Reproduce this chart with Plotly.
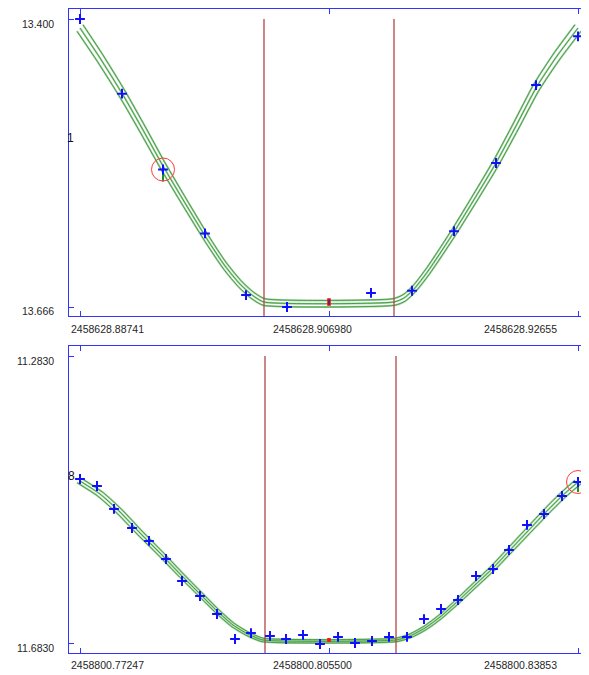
import plotly.graph_objects as go

# ---------------- data: panel 1 (JD 2458628) ----------------
p1_time = [2458628.887410, 2458628.890711, 2458628.893933, 2458628.897234,
           2458628.900457, 2458628.903679, 2458628.910281, 2458628.913503,
           2458628.916804, 2458628.920105, 2458628.923249, 2458628.926550]
p1_mag = [13.400, 13.469, 13.539, 13.598, 13.655, 13.666,
          13.653, 13.651, 13.596, 13.533, 13.461, 13.416]
p1_flag_index = 2

p1_model_time = [2458628.887410, 2458628.888982, 2458628.890790, 2458628.892361,
                 2458628.893933, 2458628.895662, 2458628.897391, 2458628.898806,
                 2458628.899985, 2458628.900928, 2458628.901871, 2458628.912089,
                 2458628.912874, 2458628.913660, 2458628.914761, 2458628.916804,
                 2458628.918455, 2458628.920105, 2458628.921677, 2458628.923249,
                 2458628.924899, 2458628.926550]
p1_model_mag = [13.4083, 13.4360, 13.4702, 13.5025, 13.5358, 13.5699, 13.6032,
                13.6281, 13.6448, 13.6549, 13.6614, 13.6614, 13.6577, 13.6494,
                13.6328, 13.5967, 13.5653, 13.5330, 13.4988, 13.4637, 13.4342,
                13.4083]
p1_contacts = [2458628.901871, 2458628.912089]
p1_mid_time = 2458628.906980

p1_xticks = [2458628.88741, 2458628.906980, 2458628.92655]
p1_xtick_text = ["2458628.88741", "2458628.906980", "2458628.92655"]
p1_yticks = [13.400, 13.666]
p1_ytick_text = ["13.400", "13.666"]
p1_label = "1"

# ---------------- data: panel 2 (JD 2458800) ----------------
p2_time = [2458800.772470, 2458800.774725, 2458800.776980, 2458800.779368,
           2458800.781623, 2458800.783878, 2458800.786000, 2458800.788388,
           2458800.790643, 2458800.793031, 2458800.795153, 2458800.797674,
           2458800.799796, 2458800.802051, 2458800.804306, 2458800.806694,
           2458800.808949, 2458800.811204, 2458800.813459, 2458800.815847,
           2458800.818102, 2458800.820357, 2458800.822612, 2458800.825000,
           2458800.827255, 2458800.829377, 2458800.831765, 2458800.834020,
           2458800.836408, 2458800.838530]
p2_mag = [11.4544, 11.4642, 11.4962, 11.5227, 11.5408, 11.5659, 11.5966, 11.6175,
          11.6426, 11.6774, 11.6691, 11.6732, 11.6774, 11.6718, 11.6844, 11.6746,
          11.6830, 11.6802, 11.6746, 11.6746, 11.6496, 11.6356, 11.6231, 11.5896,
          11.5799, 11.5534, 11.5185, 11.5032, 11.4781, 11.4586]
p2_flag_index = 29

p2_model_time = [2458800.772470, 2458800.775123, 2458800.777776, 2458800.780429,
                 2458800.783082, 2458800.785735, 2458800.788388, 2458800.790643,
                 2458800.792766, 2458800.794755, 2458800.796745, 2458800.814388,
                 2458800.816245, 2458800.818235, 2458800.820224, 2458800.822612,
                 2458800.825000, 2458800.827255, 2458800.829510, 2458800.831765,
                 2458800.834020, 2458800.836408, 2458800.838530]
p2_model_mag = [11.4572, 11.4753, 11.5004, 11.5297, 11.5576, 11.5868, 11.6147,
                11.6384, 11.6579, 11.6705, 11.6788, 11.6788, 11.6732, 11.6621,
                11.6468, 11.6245, 11.6008, 11.5785, 11.5534, 11.5283, 11.5032,
                11.4781, 11.4586]
p2_contacts = [2458800.797010, 2458800.814388]
p2_mid_time = 2458800.805500

p2_xticks = [2458800.77247, 2458800.805500, 2458800.83853]
p2_xtick_text = ["2458800.77247", "2458800.805500", "2458800.83853"]
p2_yticks = [11.2830, 11.6830]
p2_ytick_text = ["11.2830", "11.6830"]
p2_label = "8"

# ---------------- layout helpers ----------------
# page body has an 8px margin, so the figure is drawn 8px smaller and all page
# pixel positions below are shifted by that offset.
OFF = 8
PAGE_W, PAGE_H = 589, 675
W, H = PAGE_W - OFF, PAGE_H - OFF
ML, MR, MT, MB = 69 - OFF, 3, 9 - OFF, 22
PW, PH = W - ML - MR, H - MT - MB


def pxx(x):
    return (x - OFF - ML) / PW


def pxy(y):
    return (H - MB - (y - OFF)) / PH


FRAME = "#3333ff"
POINT = "#1010ff"
GREEN_LIGHT = "rgba(80,170,80,0.5)"
GREEN_DARK = "#2f8f2f"
CONTACT = "#b04848"
FONT = "Liberation Sans, Arial, sans-serif"
TXT = "#262626"

fig = go.Figure()

panels = [
    dict(t=p1_time, m=p1_mag, flag=p1_flag_index, mt=p1_model_time, mm=p1_model_mag,
         contacts=p1_contacts, mid=p1_mid_time, xt=p1_xticks, xtt=p1_xtick_text,
         yt=p1_yticks, ytt=p1_ytick_text, label=p1_label,
         xr=[2458628.886545, 2458628.927179], yr=[13.67431, 13.39076],
         dom=[pxy(316), pxy(9)], xa="x", ya="y", dy=0.00305, spread=0.012,
         bar=(0.0018, 0.0111), inner=True,
         xlab_y=329, label_xy=(70, 138), yshift=(-5, -4)),
    dict(t=p2_time, m=p2_mag, flag=p2_flag_index, mt=p2_model_time, mm=p2_model_mag,
         contacts=p2_contacts, mid=p2_mid_time, xt=p2_xticks, xtt=p2_xtick_text,
         yt=p2_yticks, ytt=p2_ytick_text, label=p2_label,
         xr=[2458800.771011, 2458800.839591], yr=[11.69694, 11.26906],
         dom=[pxy(653), pxy(346)], xa="x2", ya="y2", dy=0.00237, spread=0.012,
         bar=(0.0028, 0.0139), inner=False,
         xlab_y=665, label_xy=(71, 476), yshift=(-5, -4.5)),
]

annotations = []
for i, p in enumerate(panels):
    xa, ya = p["xa"], p["ya"]
    # model lines (three)
    for k in (-1, 0, 1):
        mx = [p["mid"] + (t - p["mid"]) * (1 + k * p["spread"]) for t in p["mt"]]
        my = [m + k * p["dy"] for m in p["mm"]]
        fig.add_trace(go.Scatter(x=mx, y=my, mode="lines", xaxis=xa, yaxis=ya,
                                 line=dict(color=GREEN_LIGHT, width=2.0, shape="spline", smoothing=0.5),
                                 hoverinfo="skip", showlegend=False))
        fig.add_trace(go.Scatter(x=mx, y=my, mode="lines", xaxis=xa, yaxis=ya,
                                 line=dict(color=GREEN_DARK, width=0.8, shape="spline", smoothing=0.5),
                                 hoverinfo="skip", showlegend=False))
    # contact lines
    for c in p["contacts"]:
        fig.add_trace(go.Scatter(x=[c, c], y=[p["yt"][0], p["yr"][0]], mode="lines",
                                 xaxis=xa, yaxis=ya, line=dict(color=CONTACT, width=1.3),
                                 hoverinfo="skip", showlegend=False))
    # mid-time marker
    mid_model = max(p["mm"])
    fig.add_trace(go.Scatter(x=[p["mid"], p["mid"]],
                             y=[mid_model - p["dy"] * 1.15, mid_model + p["dy"] * 1.15], mode="lines",
                             xaxis=xa, yaxis=ya, line=dict(color="#ff1010", width=3.6),
                             hoverinfo="skip", showlegend=False))
    if p["inner"]:
        fig.add_trace(go.Scatter(x=[p["mid"], p["mid"]],
                                 y=[mid_model - p["dy"] * 0.8, mid_model + p["dy"] * 0.8], mode="lines",
                                 xaxis=xa, yaxis=ya, line=dict(color="#2020a0", width=1.2),
                                 hoverinfo="skip", showlegend=False))
    # flagged point residual bar
    ft, fm = p["t"][p["flag"]], p["m"][p["flag"]]
    fig.add_trace(go.Scatter(x=[ft, ft], y=[fm + p["bar"][0], fm + p["bar"][1]], mode="lines",
                             xaxis=xa, yaxis=ya, line=dict(color="#1f8f1f", width=2),
                             hoverinfo="skip", showlegend=False))
    # data points
    fig.add_trace(go.Scatter(x=p["t"], y=p["m"], mode="markers", xaxis=xa, yaxis=ya,
                             marker=dict(symbol="cross-thin", size=7,
                                         line=dict(color=POINT, width=2)),
                             hoverinfo="skip", showlegend=False))
    # red circle on flagged point
    fig.add_trace(go.Scatter(x=[ft], y=[fm], mode="markers", xaxis=xa, yaxis=ya,
                             marker=dict(symbol="circle-open", size=23, color="#ff3b3b",
                                         line=dict(color="#ff3b3b", width=1)),
                             hoverinfo="skip", showlegend=False, cliponaxis=False))

    axis_common = dict(showgrid=False, zeroline=False, showline=True, linecolor=FRAME,
                       linewidth=1, mirror="ticks", ticks="inside", ticklen=5,
                       tickcolor=FRAME, tickwidth=1, showticklabels=False)
    xkey = "xaxis" if i == 0 else "xaxis2"
    ykey = "yaxis" if i == 0 else "yaxis2"
    fig.update_layout(**{
        xkey: dict(range=p["xr"], tickvals=p["xt"], anchor=ya, domain=[0, 1], **axis_common),
        ykey: dict(range=p["yr"], tickvals=p["yt"], anchor=xa, domain=p["dom"], **axis_common),
    })

    # y tick labels
    for j, (v, s) in enumerate(zip(p["yt"], p["ytt"])):
        annotations.append(dict(x=pxx(56), xref="paper", y=v, yref=ya, text=s,
                                xanchor="right", yanchor="middle", yshift=p["yshift"][j],
                                showarrow=False, font=dict(family=FONT, size=10.5, color=TXT)))
    # x tick labels
    anchors = [("left", -11), ("center", -17), ("right", -19)]
    for (v, s), (anc, sh) in zip(zip(p["xt"], p["xtt"]), anchors):
        annotations.append(dict(x=v, xref=xa, y=pxy(p["xlab_y"]), yref="paper", text=s,
                                xanchor=anc, yanchor="middle", xshift=sh,
                                showarrow=False, font=dict(family=FONT, size=10.5, color=TXT)))
    # panel label
    lx, ly = p["label_xy"]
    annotations.append(dict(x=pxx(lx), xref="paper", y=pxy(ly), yref="paper", text=p["label"],
                            xanchor="center", yanchor="middle", showarrow=False,
                            font=dict(family=FONT, size=12, color="#111")))

fig.update_layout(width=W, height=H, margin=dict(l=ML, r=MR, t=MT, b=MB),
                  paper_bgcolor="white", plot_bgcolor="white", annotations=annotations,
                  showlegend=False)

fig.write_html("out.html")
